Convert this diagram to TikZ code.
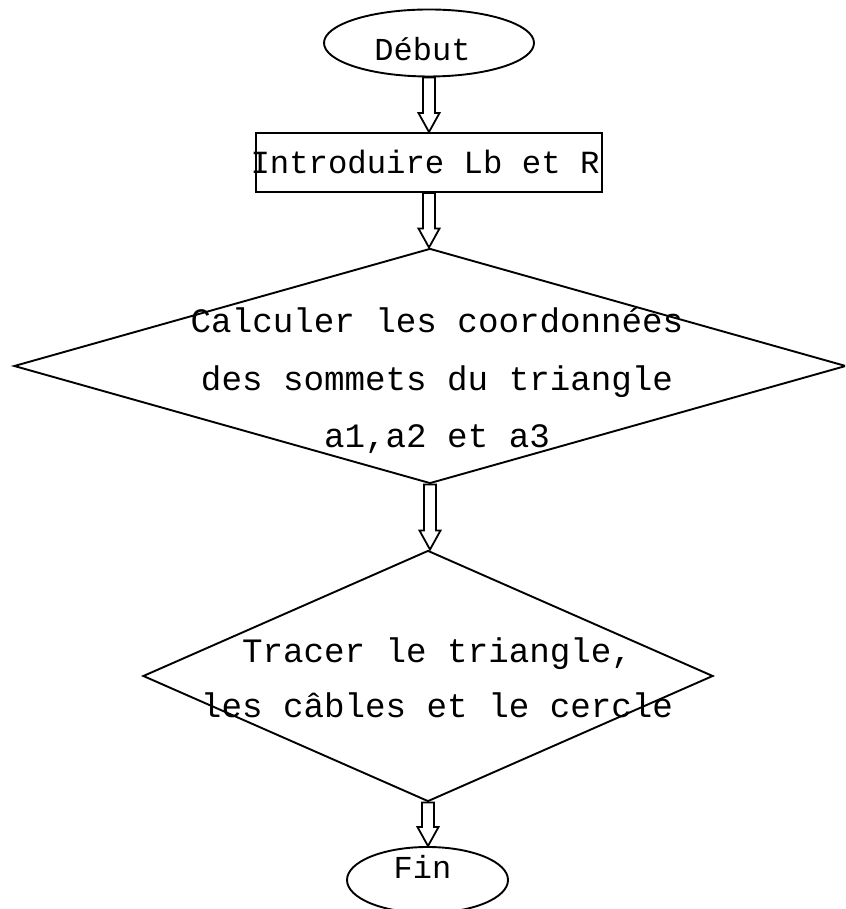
\documentclass[tikz,border=0pt]{standalone}
\usepackage{fontspec}
\setmainfont{Liberation Mono}
\usetikzlibrary{shapes.geometric,calc}
\tikzset{
  shapeline/.style={draw=black, line width=1.9pt},
  ovalbox/.style={shapeline, ellipse, inner sep=0pt},
  rectbox/.style={shapeline, rectangle, inner xsep=3pt, inner ysep=0pt, minimum height=59pt},
  decbox/.style={shapeline, diamond, inner sep=0pt},
  txt/.style={inner sep=0pt, align=center, font=\fontsize{34.2}{57.5}\selectfont},
  smalltxt/.style={inner sep=0pt, align=center, font=\fontsize{32}{40}\selectfont},
  arrowline/.style={draw=black, fill=white, line width=1.8pt, line join=miter}
}
\newcommand{\flowarrow}[2]{%
  \draw[arrowline] let \p1=(#1.south), \p2=(#2.north) in
    (\x1-6pt,\y1) -- (\x1-6pt,\y2+19pt) -- (\x1-10.5pt,\y2+19pt) -- (\x1,\y2)
    -- (\x1+10.5pt,\y2+19pt) -- (\x1+6pt,\y2+19pt) -- (\x1+6pt,\y1) -- cycle;}
\begin{document}
\begin{tikzpicture}[x=1pt,y=1pt]
\useasboundingbox (0,0) rectangle (845,909);
\clip (0,0) rectangle (845,909);
\fill[white] (0,0) rectangle (845,909);
% shapes
\node[ovalbox, minimum width=210pt, minimum height=67pt] (debut) at (429,866) {};
\node[smalltxt] (tdebut) at (422.5,860) {Début};
\node[rectbox] (intro) at (429,746.5) {\makebox[340pt]{\hspace*{-8pt}\fontsize{32.3}{40}\selectfont Introduire Lb et R}};
\node[decbox, minimum width=832pt, minimum height=235pt] (calc) at (430,543) {};
\node[txt] (tcalc) at (437,528) {Calculer les coordonnées\\des sommets du triangle\\a1,a2 et a3};
\node[decbox, minimum width=570pt, minimum height=251pt] (trace) at (428,233) {};
\node[txt, font=\fontsize{34.2}{55}\selectfont] (ttrace) at (437,231.5) {Tracer le triangle,\\les câbles et le cercle};
\node[ovalbox, minimum width=161pt, minimum height=66pt] (fin) at (427.5,29) {};
\node[smalltxt] (tfin) at (422.5,42.5) {Fin};
% connectors
\flowarrow{debut}{intro}
\flowarrow{intro}{calc}
\flowarrow{calc}{trace}
\flowarrow{trace}{fin}
\end{tikzpicture}
\end{document}
